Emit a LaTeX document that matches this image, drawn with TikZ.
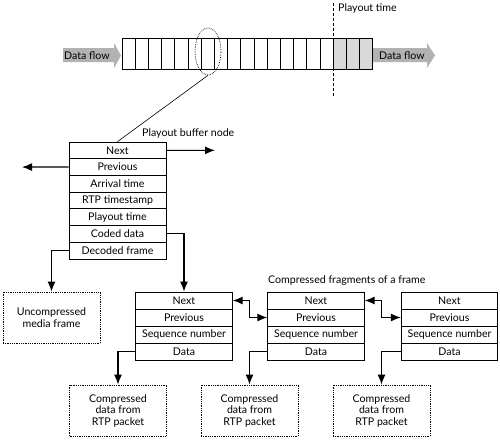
\documentclass[tikz,border=0pt]{standalone}
\usepackage{fontspec}
\setmainfont{Lato}
\usetikzlibrary{shapes.geometric,arrows.meta}
\begin{document}
\begin{tikzpicture}[x=1pt,y=-1pt,
  font=\fontsize{10.6}{12}\selectfont,
  cell/.style={draw, line width=0.8pt, inner sep=0pt, minimum width=13.2pt, minimum height=31pt},
  shcell/.style={cell, fill=black!15},
  brow/.style={draw, line width=0.8pt, inner sep=0pt, minimum width=97pt, minimum height=16.7pt},
  frow/.style={draw, line width=0.8pt, inner sep=0pt, minimum width=96.5pt, minimum height=17pt},
  dbox/.style={draw, densely dotted, line width=0.8pt, inner sep=0pt, minimum width=97pt, minimum height=51pt, align=center, font=\fontsize{10.6}{11.5}\selectfont},
  conn/.style={line width=1.2pt, -{Latex[length=10pt,width=8pt]}},
  bconn/.style={line width=1.2pt, {Latex[length=10pt,width=8pt]}-{Latex[length=10pt,width=8pt]}},
  flow/.style={fill=black!30},
  lbl/.style={inner sep=0pt, anchor=west}
]
\useasboundingbox (0,0) rectangle (500,439);
% gray flow arrows
\fill[flow] (63,48) -- (114,48) -- (114,43) -- (121,55.5) -- (114,68) -- (114,62) -- (63,62) -- cycle;
\node[lbl] (dfl) at (64,55.5) {Data flow};
\fill[flow] (373,48) -- (427,48) -- (427,43) -- (435,55.5) -- (427,68) -- (427,62) -- (373,62) -- cycle;
\node[lbl] (dfr) at (379,55.5) {Data flow};
% buffer cells
\foreach \i in {1,...,16} {
  \node[cell] (c\i) at ({122+13.2*(\i-0.5)},53.5) {};
}
\foreach \i in {17,18,19} {
  \node[shcell] (c\i) at ({122+13.2*(\i-0.5)},53.5) {};
}
% playout time
\coordinate (pt1) at (333,3);
\coordinate (pt2) at (333,97);
\draw[densely dashed, line width=0.6pt] (pt1) -- (pt2);
\node[lbl] (ptl) at (338,8.5) {Playout time};
% ellipse
\node[draw, densely dotted, line width=0.7pt, ellipse, inner sep=0pt, minimum width=26pt, minimum height=47pt] (ell) at (208,51.5) {};
% playout buffer node
\node[lbl] (pbl) at (142,133.5) {Playout buffer node};
\foreach \t [count=\i] in {Next,Previous,Arrival time,RTP timestamp,Playout time,Coded data,Decoded frame} {
  \node[brow] (n\i) at (117.5,{142+16.7*(\i-0.5)}) {\t};
}
\draw[line width=0.6pt] (ell.south) -- (n1.north);
\coordinate (nx) at (215,150.35);
\coordinate (pv) at (22,167.05);
\draw[conn] (n1.east) -- (nx);
\draw[conn] (n2.west) -- (pv);
% uncompressed
\node[dbox] (unc) at (51.5,317.5) {Uncompressed\\media frame};
% fragments
\node[lbl] (cfl) at (268,281) {Compressed fragments of a frame};
\foreach \f/\x in {1/184,2/316,3/449.5} {
  \foreach \t [count=\i] in {Next,Previous,Sequence number,Data} {
    \node[frow] (f\f\i) at (\x,{292+17*(\i-0.5)}) {\t};
  }
}
% compressed data boxes
\foreach \j/\x in {1/118,2/249.5,3/381.5} {
  \node[dbox] (cd\j) at (\x,410.5) {Compressed\\data from\\RTP packet};
}
% connectors
\draw[conn] (n6.east) -| (f11.north);
\draw[conn] (n7.west) -| (unc.north);
\draw[conn] (f14.west) -| (cd1.north);
\draw[conn] (f24.west) -| (cd2.north);
\draw[conn] (f34.west) -| (cd3.north);
\draw[bconn] (f11.east) -- (f11.east -| cd2.north) |- (f22.west);
\draw[bconn] (f21.east) -- (f21.east -| cd3.north) |- (f32.west);
\end{tikzpicture}
\end{document}
